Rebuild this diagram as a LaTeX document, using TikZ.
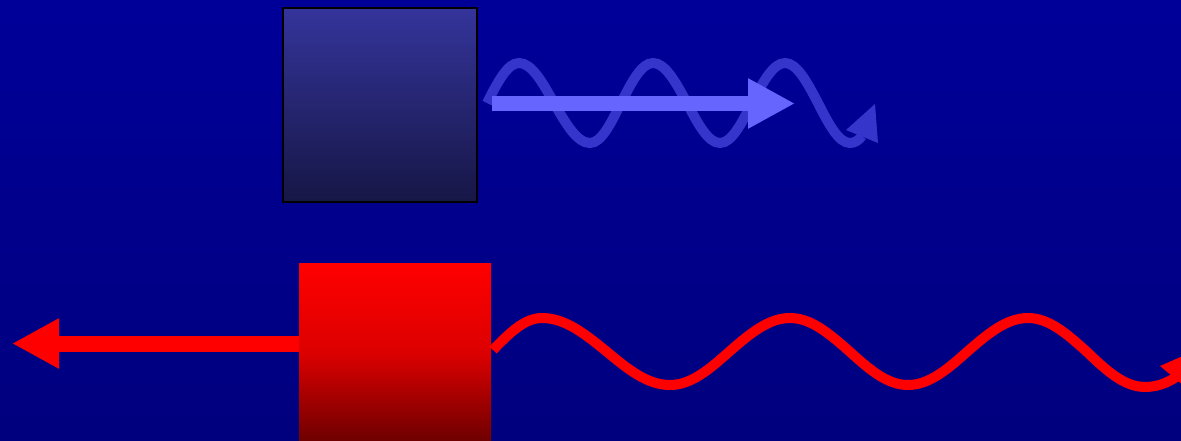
\documentclass[tikz,border=0pt]{standalone}
\usetikzlibrary{arrows.meta}
\definecolor{bgtop}{RGB}{0,0,153}
\definecolor{bgbot}{RGB}{0,0,126}
\definecolor{bboxtop}{RGB}{52,52,155}
\definecolor{bboxbot}{RGB}{22,22,70}
\definecolor{rboxbot}{RGB}{108,0,0}
\definecolor{wavblue}{RGB}{53,53,204}
\definecolor{arrblue}{RGB}{102,102,255}
\definecolor{wavred}{RGB}{255,0,0}
\begin{document}
\begin{tikzpicture}[x=1pt,y=-1pt,
  sqbox/.style={inner sep=0pt, outer sep=0pt},
  bwave/.style={draw=wavblue, line width=10pt},
  rwave/.style={draw=wavred, line width=10pt},
  fatarrow/.style={line width=15.5pt, -{Triangle[length=47pt,width=47pt]}}
]
\useasboundingbox (0,0) rectangle (1181,441);
\shade[top color=bgtop, bottom color=bgbot] (0,0) rectangle (1181,441);

% boxes
\node[sqbox, minimum width=194pt, minimum height=194pt,
      top color=bboxtop, bottom color=bboxbot, draw=black, line width=1.5pt]
      (bluebox) at (380,105) {};
\node[sqbox, minimum width=192pt, minimum height=180pt,
      top color=red, bottom color=rboxbot, middle color={rgb,255:red,220;green,0;blue,0}]
      (redbox) at (395,353) {};

% blue wave
\coordinate (bw0) at (487,103);
\coordinate (bw1) at (862,136);
\draw[bwave] (bw0) sin (519,63) cos (554,103) sin (590,143) cos (621,103)
  sin (653,63) cos (687,103) sin (720,143) cos (752,103) sin (785,63)
  cos (818,103) sin (850,143) .. controls (855,143) and (859,140) .. (bw1);
\fill[wavblue] (875,104) -- (878,143) -- (846,130) -- cycle;

% light blue straight arrow
\coordinate (ba0) at (492,103.5);
\coordinate (ba1) at (795,103.5);
\draw[fatarrow, draw=arrblue, fill=arrblue] (ba0) -- (ba1);

% red left arrow
\coordinate (ra1) at (12,343.5);
\draw[fatarrow, line width=16pt, draw=red, fill=red] (redbox.west |- ra1) -- (ra1);

% red wave
\coordinate (rw0) at (493,350);
\coordinate (rw1) at (1186,370);
\draw[rwave] (rw0) sin (542,318) cos (606,351) sin (670,385) cos (730,351)
  sin (790,318) cos (849,351) sin (908,385) cos (968,351) sin (1028,318)
  cos (1086,351) sin (1145,387) .. controls (1160,387) and (1172,381) .. (rw1);
\fill[wavred] (1160,366) -- (1208,345) -- (1196,396) -- cycle;
\end{tikzpicture}
\end{document}
